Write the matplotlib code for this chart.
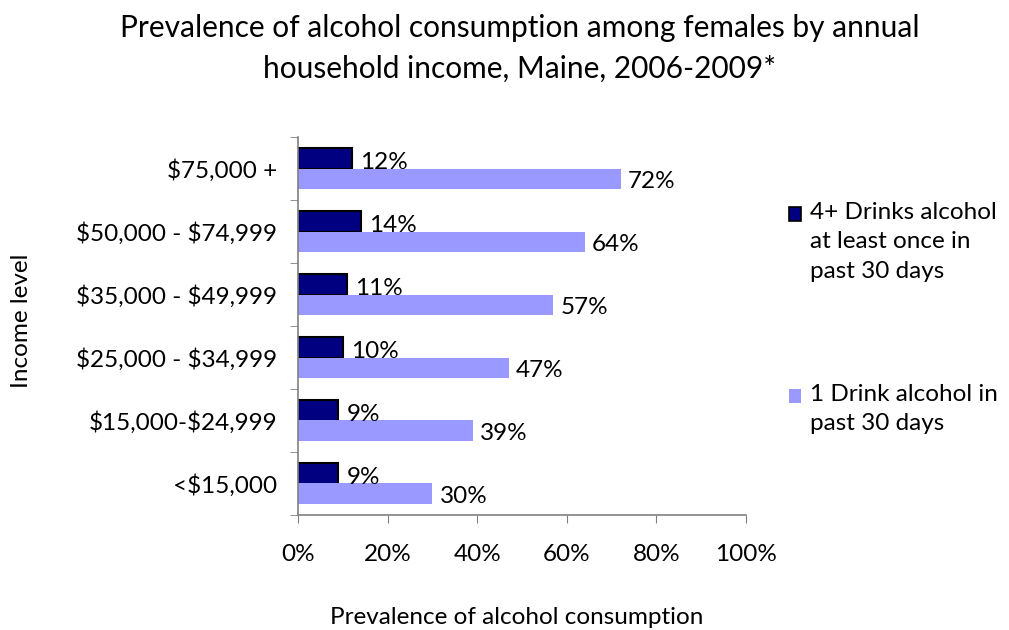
import matplotlib
matplotlib.use("Agg")
import matplotlib.pyplot as plt
from matplotlib.patches import Rectangle
import numpy as np

plt.rcParams['font.family'] = ['Lato', 'DejaVu Sans']
plt.rcParams['text.parse_math'] = False

categories = ["<$15,000", "$15,000-$24,999", "$25,000 - $34,999",
              "$35,000 - $49,999", "$50,000 - $74,999", "$75,000 +"]
heavy = [9, 9, 10, 11, 14, 12]      # 4+ drinks
any_drink = [30, 39, 47, 57, 64, 72]  # 1 drink
series_labels = ["4+ Drinks alcohol\nat least once in\npast 30 days",
                 "1 Drink alcohol in\npast 30 days"]
xticks = [0, 20, 40, 60, 80, 100]
xtick_labels = ["0%", "20%", "40%", "60%", "80%", "100%"]

dark = "#000080"
light = "#9999FF"

fig = plt.figure(figsize=(10.09, 6.30), dpi=100)
ax = fig.add_axes([298/1009, 1-515/630, 448/1009, 378/630])

y = np.arange(len(categories))
h = 0.32
ax.barh(y + h/2, heavy, height=h, color=dark, edgecolor="black", linewidth=1.5)
ax.barh(y - h/2, any_drink, height=h, color=light, edgecolor="none")

fs = 17.5
for yi, v in zip(y, heavy):
    ax.text(v + 1.8, yi + h/2 - 0.06, f"{v}%", va="center", ha="left", fontsize=fs, color="black")
for yi, v in zip(y, any_drink):
    ax.text(v + 1.6, yi - h/2 - 0.05, f"{v}%", va="center", ha="left", fontsize=fs, color="black")

ax.set_xlim(0, 100)
ax.set_ylim(-0.5, len(categories) - 0.5)
ax.set_xticks(xticks)
ax.set_xticklabels(xtick_labels, fontsize=fs)
ax.set_yticks(y)
ax.set_yticklabels(categories, fontsize=fs)
ax.tick_params(axis="y", length=0, pad=15)
ax.tick_params(axis="x", length=6, direction="out", pad=15, color="#808080")
# category boundary ticks on y axis
ax.set_yticks(np.arange(-0.5, len(categories)), minor=True)
ax.tick_params(axis="y", which="minor", length=6, color="#808080", direction="out")

for s in ["top", "right"]:
    ax.spines[s].set_visible(False)
for s in ["left", "bottom"]:
    ax.spines[s].set_color("#808080")
    ax.spines[s].set_linewidth(1.2)

fig.text(517/1009, 1-617/630, "Prevalence of alcohol consumption", ha="center", va="center", fontsize=fs)
fig.text(22/1009, 1-321/630, "Income level", rotation=90, va="center", ha="center", fontsize=fs)

fig.text(520/1009, 1-48/630,
         "Prevalence of alcohol consumption among females by annual\nhousehold income, Maine, 2006-2009*",
         ha="center", va="center", fontsize=21.5, linespacing=1.55)

# legend
leg_entries = [(series_labels[0], dark, "black", 214), (series_labels[1], light, "none", 396)]
for lab, col, ec, yc in leg_entries:
    fig.patches.append(Rectangle((789/1009, 1-(yc+7)/630), 12/1009, 14/630,
                                 transform=fig.transFigure, facecolor=col,
                                 edgecolor=ec, linewidth=1.2))
    fig.text(810/1009, 1-(yc-12)/630, lab, ha="left", va="top", fontsize=fs, linespacing=1.5)

fig.savefig("out.png", dpi=100)
